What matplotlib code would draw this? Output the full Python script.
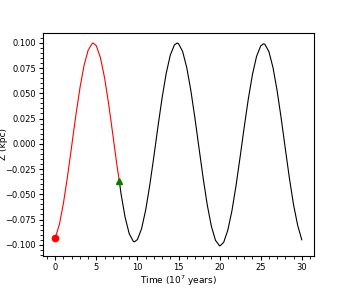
import numpy as np
import matplotlib
matplotlib.use("Agg")
import matplotlib.pyplot as plt

# orbit height above the plane (time in 10^7 yr, Z in kpc)
time = [0.0, 0.5, 1.0, 1.5, 2.0, 2.5, 3.0, 3.5, 4.0, 4.5, 4.62,
        5.0, 5.5, 6.0, 6.5, 7.0, 7.5, 7.8, 8.0, 8.5, 9.0, 9.5, 9.65,
        10.0, 10.5, 11.0, 11.5, 12.0, 12.5, 13.0, 13.5, 14.0, 14.5, 14.82,
        15.0, 15.5, 16.0, 16.5, 17.0, 17.5, 18.0, 18.5, 19.0, 19.5,
        20.0, 20.05, 20.5, 21.0, 21.5, 22.0, 22.5, 23.0, 23.5, 24.0, 24.5,
        25.0, 25.35, 25.5, 26.0, 26.5, 27.0, 27.5, 28.0, 28.5, 29.0, 29.5, 30.0]
z = [-0.093, -0.080, -0.0586, -0.0318, -0.0021, 0.0278, 0.0551, 0.0774, 0.0926, 0.0993, 0.0997,
     0.0970, 0.0852, 0.0654, 0.0393, 0.0096, -0.0209, -0.037, -0.0492, -0.0727, -0.0890, -0.0966, -0.0970,
     -0.0948, -0.0842, -0.0657, -0.0411, -0.0127, 0.0171, 0.0454, 0.0697, 0.0878, 0.0979, 0.0997,
     0.0991, 0.0914, 0.0755, 0.0528, 0.0253, -0.0046, -0.0340, -0.0606, -0.0817, -0.0956,
     -0.1010, -0.1011, -0.0975, -0.0855, -0.0663, -0.0414, -0.0128, 0.0167, 0.0447, 0.0687, 0.0866,
     0.0969, 0.0990, 0.0986, 0.0913, 0.0754, 0.0526, 0.0249, -0.0050, -0.0344, -0.0604, -0.0807, -0.095]

t_now = 7.8  # where the red (past) part ends

time = np.array(time)
z = np.array(z)
past = time <= t_now
future = time >= t_now

fig = plt.figure(figsize=(3.49, 2.89), dpi=100)
ax = fig.add_axes([0.123, 0.114, 0.777, 0.772])

ax.plot(time[future], z[future], color="k", lw=0.8)
ax.plot(time[past], z[past], color="red", lw=0.8)
ax.plot(time[0], z[0], "o", color="red", ms=4.5)
ax.plot(time[past][-1], z[past][-1], "^", color="green", ms=5)

ax.set_xticks([0, 5, 10, 15, 20, 25, 30])
ax.set_yticks([-0.100, -0.075, -0.050, -0.025, 0.0, 0.025, 0.050, 0.075, 0.100])
ax.minorticks_on()
ax.tick_params(labelsize=6, pad=2)
ax.tick_params(which="minor", length=2)
ax.tick_params(which="major", length=3)
ax.set_xlabel("Time ($10^7$ years)", fontsize=6.5, labelpad=1)
ax.set_ylabel("Z (kpc)", fontsize=6.5)
ax.yaxis.set_label_coords(-0.128, 0.5)

fig.savefig("out.png", dpi=100)
